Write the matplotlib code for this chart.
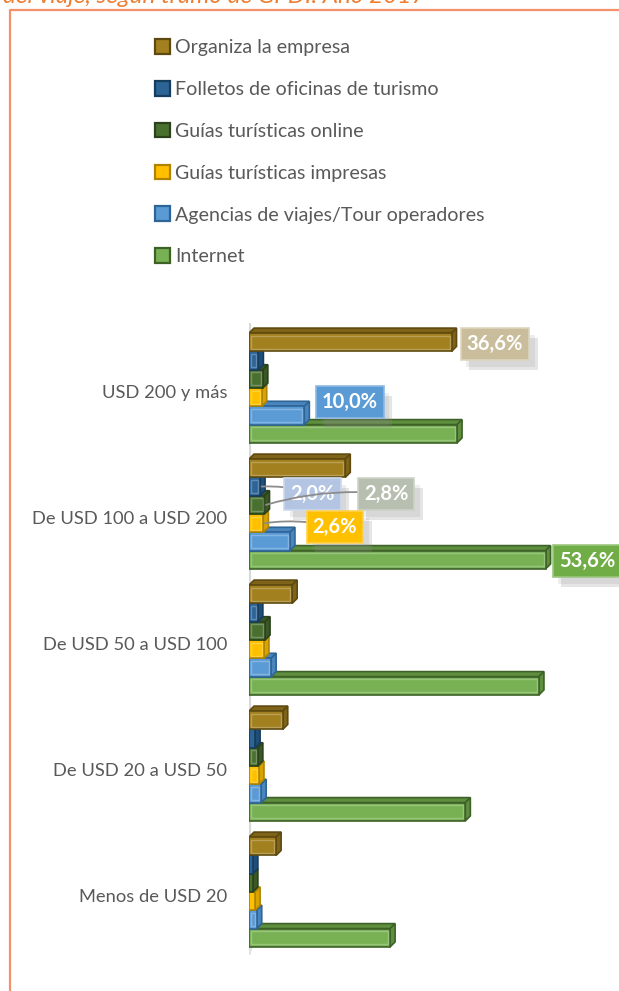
import matplotlib
matplotlib.use("Agg")
import matplotlib.pyplot as plt
from matplotlib.patches import Rectangle, Polygon, Patch
from matplotlib.lines import Line2D
import matplotlib.patheffects as pe
import numpy as np

categories = ["USD 200 y más", "De USD 100 a USD 200", "De USD 50 a USD 100",
              "De USD 20 a USD 50", "Menos de USD 20"]
series_names = ["Organiza la empresa", "Folletos de oficinas de turismo",
                "Guías turísticas online", "Guías turísticas impresas",
                "Agencias de viajes/Tour operadores", "Internet"]
organiza = [36.6, 17.4, 7.8, 6.1, 4.9]
folletos = [1.7, 2.0, 1.6, 1.1, 0.7]
online = [2.5, 2.8, 2.9, 1.6, 0.7]
impresas = [2.3, 2.6, 2.7, 1.8, 1.1]
agencias = [10.0, 7.4, 4.0, 2.2, 1.4]
internet = [37.6, 53.6, 52.4, 39.1, 25.5]
series_values = [organiza, folletos, online, impresas, agencias, internet]

# labelled points: (series index, category index, text)
labels = [(0, 0, "36,6%"), (4, 0, "10,0%"), (1, 1, "2,0%"),
          (2, 1, "2,8%"), (3, 1, "2,6%"), (5, 1, "53,6%")]

front_c = ["#A3801F", "#2C6496", "#4A7030", "#FFC000", "#5B9BD5", "#78B153"]
side_c = ["#7E6318", "#1F4E79", "#3A5826", "#D9A300", "#4A86BE", "#5E8F3E"]
edge_c = ["#5E4A10", "#173D5E", "#2B421C", "#B08400", "#2E6496", "#3E6127"]
label_c = ["#C9BD9C", "#B3C5E3", "#B6BFB0", "#FFC000", "#5B9BD5", "#70AD47"]
label_ec = ["#DDD5BE", "#CCD9EE", "#CDD3C8", "#FFD24D", "#8DB9E3", "#9CC77E"]

W, H = 619, 991
fig = plt.figure(figsize=(W / 100, H / 100), dpi=100)
fig.patch.set_facecolor("white")

ax_left, ax_right, ax_top, ax_bot = 249, 581, 320, 957
ax = fig.add_axes([ax_left / W, 1 - ax_bot / H, (ax_right - ax_left) / W,
                   (ax_bot - ax_top) / H])
xmax = 60.0
ax.set_xlim(0, xmax)
step_px = 126.0
y_top_val = (ax_top - 388) / step_px
y_bot_val = (ax_bot - 388) / step_px
ax.set_ylim(y_bot_val, y_top_val)
for s in ax.spines.values():
    s.set_visible(False)
ax.set_xticks([])

px_x = (ax_right - ax_left) / xmax
ddx = 5 / px_x
ddy = 5 / step_px
nser = len(series_values)
h = 18.3 / step_px
group_h = h * nser

# axis wall line
ax.plot([0, 0], [y_bot_val - 0.02, y_top_val + 0.02], color="#D9D9D9", lw=3,
        zorder=1, solid_capstyle="butt")
ax.plot([0, ddx], [y_bot_val - 0.03, y_bot_val - 0.03 - ddy * 2.5],
        color="#E3E3E3", lw=2, zorder=1)

bar_pos = {}
for i in range(len(categories)):
    for j in reversed(range(nser)):
        v = series_values[j][i]
        yc = i - group_h / 2 + (j + 0.5) * h
        ytop = yc - h / 2
        ybot = yc + h / 2
        z = 10 + (nser - j) + i * 10
        top = Polygon([(0, ytop), (v, ytop), (v + ddx, ytop - ddy), (ddx, ytop - ddy)],
                      closed=True, facecolor=side_c[j], edgecolor=edge_c[j], lw=1.2,
                      zorder=z)
        side = Polygon([(v, ytop), (v + ddx, ytop - ddy), (v + ddx, ybot - ddy), (v, ybot)],
                       closed=True, facecolor=side_c[j], edgecolor=edge_c[j], lw=1.2,
                       zorder=z)
        ax.add_patch(top)
        ax.add_patch(side)
        ax.barh(yc, v, height=h, left=0, color=front_c[j], edgecolor=edge_c[j],
                lw=1.2, zorder=z + 0.1)
        # inner bevel highlight
        if v > 1.2:
            ax.add_patch(Rectangle((0.35, ytop + 0.022), v - 0.7, h - 0.044, fill=False,
                                   edgecolor="white", alpha=0.25, lw=1,
                                   zorder=z + 0.2))
        bar_pos[(j, i)] = (v, yc)

ax.set_yticks([k + 0.03 for k in range(len(categories))])
ax.set_yticklabels(categories, fontsize=13.2, color="#595959", family="Lato")
ax.tick_params(axis="y", length=0, pad=15.5)

# label offsets in pixels (dx right, dy down)
offs = {(0, 0): (42, 2), (4, 0): (44, -13), (1, 1): (51, 7.5),
        (2, 1): (120, -11), (3, 1): (70, 4), (5, 1): (40, 1)}
for j, i, txt in labels:
    v, yc = bar_pos[(j, i)]
    dxp, dyp = offs[(j, i)]
    leader = (j, i) in [(1, 1), (2, 1), (3, 1)]
    ann = ax.annotate(txt, xy=(v + ddx * 0.3, yc), xytext=(dxp * 0.72, -dyp * 0.72),
                      textcoords="offset points", ha="center", va="center",
                      fontsize=14.5, fontweight="bold", color="white", family="Lato",
                      bbox=dict(boxstyle="square,pad=0.3", fc=label_c[j],
                                ec=label_ec[j], lw=1.2),
                      arrowprops=(dict(arrowstyle="-", color="#8C8C8C", lw=1.3,
                                       shrinkA=0, shrinkB=0,
                                       connectionstyle="arc3,rad=0.1")
                                  if leader else None),
                      zorder=200)
    ann.get_bbox_patch().set_path_effects(
        [pe.SimplePatchShadow(offset=(6, -7), shadow_rgbFace="#8C8C8C", alpha=0.22),
         pe.SimplePatchShadow(offset=(4, -5), shadow_rgbFace="#8C8C8C", alpha=0.15),
         pe.Normal()])

# legend
handles = [Patch(facecolor=front_c[j], edgecolor=edge_c[j], lw=1.6) for j in range(nser)]
leg = fig.legend(handles, series_names, loc="upper left",
                 bbox_to_anchor=(155 / W, 1 - 39 / H), frameon=False,
                 prop=dict(family="Lato", size=14.1), labelcolor="#595959",
                 handlelength=0.78, handleheight=0.78, handletextpad=0.25,
                 labelspacing=1.26, borderpad=0, borderaxespad=0)

# title (cut at top) and frame
fig.text(3 / W, 1 - 3 / H, "del viaje, según tramo de GPDI. Año 2017", ha="left",
         va="baseline", fontsize=17.5, style="italic", color="#ED7D31", family="Lato")
fig.add_artist(Line2D([10 / W, 10 / W, 1.0], [0.0, 1 - 10 / H, 1 - 10 / H],
                      transform=fig.transFigure, color="#F4916A", lw=1.6))

fig.savefig("out.png", dpi=100)
